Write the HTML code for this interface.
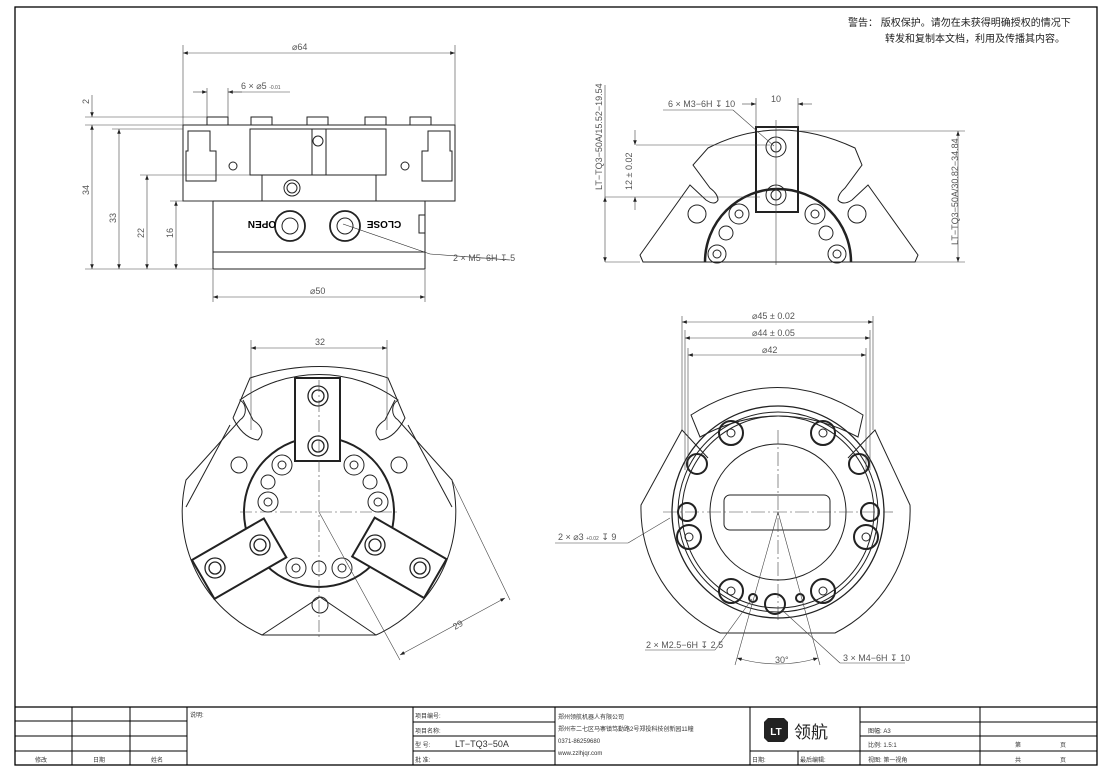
<!DOCTYPE html>
<html><head><meta charset="utf-8"><style>
html,body{margin:0;padding:0;background:#fff}
svg{display:block}
text{font-family:"Liberation Sans","Noto Sans CJK SC",sans-serif}
</style></head><body>
<svg width="1107" height="770" viewBox="0 0 1107 770" xmlns="http://www.w3.org/2000/svg">
<defs>
<marker id="a" markerWidth="8" markerHeight="6" refX="8" refY="3" orient="auto-start-reverse"><path d="M0,0 L8,3 L0,6z" fill="#222"/></marker>
</defs>
<rect x="15" y="7" width="1082" height="758" fill="none" stroke="#000" stroke-width="1.3"/>
<text x="848" y="26" font-size="10" fill="#222">警告：  版权保护。请勿在未获得明确授权的情况下</text>
<text x="885" y="42" font-size="10" fill="#222">转发和复制本文档，利用及传播其内容。</text>

<!-- SIDE VIEW -->
<g stroke="#222" fill="none" stroke-width="1">
<rect x="183" y="125" width="272" height="76"/>
<rect x="213" y="201" width="212" height="68"/>
<line x1="213" y1="252" x2="425" y2="252"/>
<rect x="207" y="117" width="21" height="8"/><rect x="251" y="117" width="21" height="8"/><rect x="307" y="117" width="21" height="8"/><rect x="365" y="117" width="21" height="8"/><rect x="410" y="117" width="21" height="8"/>
<rect x="250" y="129" width="136" height="46"/>
<line x1="262" y1="175" x2="262" y2="201"/><line x1="376" y1="175" x2="376" y2="201"/>
<line x1="312" y1="129" x2="312" y2="175"/><line x1="326" y1="129" x2="326" y2="175"/>
<path d="M188,131 h22 v20 h6 v30 h-30 v-30 h2z"/>
<path d="M450,131 h-22 v20 h-6 v30 h30 v-30 h-2z"/>
<circle cx="233" cy="166" r="4"/><circle cx="405" cy="166" r="4"/>
<circle cx="318" cy="141" r="5"/>
<circle cx="292" cy="188" r="8"/><circle cx="292" cy="188" r="5"/>
<circle cx="290" cy="226" r="15" stroke-width="1.8"/><circle cx="290" cy="226" r="8"/>
<circle cx="345" cy="226" r="15" stroke-width="1.8"/><circle cx="345" cy="226" r="8"/>
<path d="M425,215 h-6 v18 h6"/>
<line x1="343" y1="224" x2="430" y2="254" stroke-width=".6"/><line x1="430" y1="254" x2="510" y2="260" stroke-width=".6"/>
</g>
<text x="262" y="229" font-size="10" font-weight="bold" transform="rotate(180 262 225)" text-anchor="middle">OPEN</text>
<text x="384" y="229" font-size="10" font-weight="bold" transform="rotate(180 384 225)" text-anchor="middle">CLOSE</text>
<g stroke="#444" stroke-width=".6" fill="none">
<line x1="183" y1="45" x2="183" y2="125"/><line x1="455" y1="45" x2="455" y2="125"/>
<line x1="183" y1="53" x2="455" y2="53" marker-start="url(#a)" marker-end="url(#a)"/>
<line x1="213" y1="270" x2="213" y2="302"/><line x1="425" y1="270" x2="425" y2="302"/>
<line x1="213" y1="297" x2="425" y2="297" marker-start="url(#a)" marker-end="url(#a)"/>
<line x1="85" y1="269" x2="213" y2="269"/>
<line x1="85" y1="117" x2="207" y2="117"/><line x1="85" y1="125" x2="183" y2="125"/>
<line x1="112" y1="129" x2="183" y2="129"/><line x1="140" y1="175" x2="250" y2="175"/><line x1="170" y1="201" x2="213" y2="201"/>
<line x1="92" y1="125" x2="92" y2="269" marker-start="url(#a)" marker-end="url(#a)"/>
<line x1="92" y1="95" x2="92" y2="117" marker-end="url(#a)"/>
<line x1="119" y1="129" x2="119" y2="269" marker-start="url(#a)" marker-end="url(#a)"/>
<line x1="147" y1="175" x2="147" y2="269" marker-start="url(#a)" marker-end="url(#a)"/>
<line x1="176" y1="201" x2="176" y2="269" marker-start="url(#a)" marker-end="url(#a)"/>
<line x1="207" y1="88" x2="207" y2="117"/><line x1="228" y1="88" x2="228" y2="117"/>
<line x1="193" y1="92" x2="207" y2="92" marker-end="url(#a)"/><line x1="242" y1="92" x2="228" y2="92" marker-end="url(#a)"/>
<line x1="228" y1="92" x2="290" y2="92"/>
</g>
<g font-size="9" fill="#555">
<text x="292" y="50">⌀64</text><text x="310" y="294">⌀50</text>
<text x="241" y="89">6 × ⌀5 <tspan font-size="5">-0.01</tspan></text>
<text x="453" y="261">2 × M5−6H ↧ 5</text>
<text transform="translate(89,195) rotate(-90)">34</text>
<text transform="translate(116,223) rotate(-90)">33</text>
<text transform="translate(144,238) rotate(-90)">22</text>
<text transform="translate(173,238) rotate(-90)">16</text>
<text transform="translate(89,104) rotate(-90)">2</text>
</g>

<!-- TOP RIGHT VIEW -->
<g stroke="#222" fill="none" stroke-width="1">
<path d="M708,148 Q778,112 855,148 L862,165 L845,188 Q838,194 838,200 Q843,206 852,200 L868,185 L918,255 L915,262 L643,262 L640,255 L690,185 L706,200 Q715,206 718,200 Q718,194 710,188 L693,165 Z"/>
<rect x="756" y="127" width="42" height="85" stroke-width="2"/>
<path d="M705,262 A73,73 0 0 1 851,262" stroke-width="2.5"/>
<circle cx="776" cy="147" r="10"/><circle cx="776" cy="147" r="5"/>
<circle cx="776" cy="195" r="10"/><circle cx="776" cy="195" r="5"/>
<circle cx="739" cy="214" r="10"/><circle cx="739" cy="214" r="4"/>
<circle cx="815" cy="214" r="10"/><circle cx="815" cy="214" r="4"/>
<circle cx="697" cy="214" r="9"/><circle cx="857" cy="214" r="9"/>
<circle cx="726" cy="233" r="7"/><circle cx="826" cy="233" r="7"/>
<circle cx="717" cy="254" r="9"/><circle cx="717" cy="254" r="4"/>
<circle cx="837" cy="254" r="9"/><circle cx="837" cy="254" r="4"/>
</g>
<g stroke="#444" stroke-width=".6" fill="none">
<line x1="756" y1="98" x2="756" y2="127"/><line x1="798" y1="98" x2="798" y2="127"/>
<line x1="742" y1="104" x2="756" y2="104" marker-end="url(#a)"/><line x1="812" y1="104" x2="798" y2="104" marker-end="url(#a)"/>
<line x1="663" y1="110" x2="733" y2="110"/><line x1="733" y1="110" x2="774" y2="146"/>
<line x1="636" y1="145" x2="770" y2="145"/><line x1="605" y1="197" x2="760" y2="197"/>
<line x1="635" y1="130" x2="635" y2="145" marker-end="url(#a)"/><line x1="635" y1="210" x2="635" y2="197" marker-end="url(#a)"/>
<line x1="605" y1="262" x2="640" y2="262"/>
<line x1="605" y1="197" x2="605" y2="262" marker-start="url(#a)" marker-end="url(#a)"/>
<line x1="605" y1="85" x2="605" y2="197"/>
<line x1="800" y1="131" x2="965" y2="131"/><line x1="915" y1="262" x2="965" y2="262"/>
<line x1="958" y1="131" x2="958" y2="262" marker-start="url(#a)" marker-end="url(#a)"/>
<line x1="776" y1="120" x2="776" y2="265"/>
</g>
<g font-size="9" fill="#555">
<text x="771" y="102">10</text>
<text x="668" y="107">6 × M3−6H ↧ 10</text>
<text transform="translate(632,190) rotate(-90)">12 ± 0.02</text>
<text transform="translate(602,190) rotate(-90)">LT−TQ3−50A/15.52−19.54</text>
<text transform="translate(958,245) rotate(-90)">LT−TQ3−50A/30.82−34.84</text>
</g>

<!-- BOTTOM LEFT VIEW -->
<g stroke="#222" fill="none" stroke-width="1">
<path d="M262,635 L376,635 A135,135 0 0 0 452,480 L398,420 A12,12 0 0 1 398,400 A135,135 0 0 0 240,400 A12,12 0 0 1 240,420 L186,480 A135,135 0 0 0 262,635 Z"/>
<path d="M233,418 L250,378 Q320,355 388,378 L405,418 Q395,438 380,440 Q370,430 385,420 L395,400 M233,418 Q243,438 258,440 Q268,430 253,420 L243,400"/>
<path d="M186,507 L230,425 M452,507 L408,425 M262,635 L320,597 L376,635"/>
<circle cx="319" cy="512" r="75" stroke-width="2"/>
<rect x="295" y="378" width="45" height="83" stroke-width="2" fill="#fff"/>
<g transform="rotate(-120 319 512)"><rect x="296" y="378" width="45" height="83" stroke-width="2" fill="#fff"/></g>
<g transform="rotate(120 319 512)"><rect x="296" y="378" width="45" height="83" stroke-width="2" fill="#fff"/></g>
<g stroke-width="1.3">
<circle cx="318" cy="396" r="10"/><circle cx="318" cy="396" r="6"/>
<circle cx="318" cy="446" r="10"/><circle cx="318" cy="446" r="6"/>
<circle cx="260" cy="545" r="10"/><circle cx="260" cy="545" r="6"/>
<circle cx="215" cy="568" r="10"/><circle cx="215" cy="568" r="6"/>
<circle cx="375" cy="545" r="10"/><circle cx="375" cy="545" r="6"/>
<circle cx="420" cy="568" r="10"/><circle cx="420" cy="568" r="6"/>
</g>
<circle cx="282" cy="465" r="10"/><circle cx="282" cy="465" r="4"/>
<circle cx="354" cy="465" r="10"/><circle cx="354" cy="465" r="4"/>
<circle cx="268" cy="502" r="10"/><circle cx="268" cy="502" r="4"/>
<circle cx="378" cy="502" r="10"/><circle cx="378" cy="502" r="4"/>
<circle cx="268" cy="482" r="7"/><circle cx="370" cy="482" r="7"/>
<circle cx="296" cy="568" r="10"/><circle cx="296" cy="568" r="4"/>
<circle cx="342" cy="568" r="10"/><circle cx="342" cy="568" r="4"/>
<circle cx="319" cy="568" r="7"/><circle cx="320" cy="605" r="8"/>
<circle cx="239" cy="465" r="8"/><circle cx="399" cy="465" r="8"/>
</g>
<g stroke="#444" stroke-width=".6" fill="none" stroke-dasharray="12,3,2,3">
<line x1="240" y1="512" x2="400" y2="512"/><line x1="319" y1="380" x2="319" y2="640"/>
</g>
<g stroke="#444" stroke-width=".6" fill="none">
<line x1="251" y1="340" x2="251" y2="430"/><line x1="387" y1="340" x2="387" y2="430"/>
<line x1="251" y1="348" x2="387" y2="348" marker-start="url(#a)" marker-end="url(#a)"/>
<line x1="319" y1="512" x2="400" y2="660"/><line x1="452" y1="480" x2="510" y2="600"/>
<line x1="400" y1="655" x2="505" y2="598" marker-start="url(#a)" marker-end="url(#a)"/>
</g>
<text x="315" y="345" font-size="9" fill="#555">32</text>
<text transform="translate(455,630) rotate(-30)" font-size="9" fill="#555">29</text>

<!-- BOTTOM RIGHT VIEW -->
<g stroke="#222" fill="none" stroke-width="1">
<path d="M720,633 L835,633 A137,137 0 0 0 910,505 L875,430 L848,458 M720,633 A137,137 0 0 1 641,505 L682,430 L708,458"/>
<path d="M691,415 Q778,360 863,415 L858,437 Q778,395 700,437 Z"/>
<circle cx="778" cy="512" r="106" stroke-width="1.3"/>
<circle cx="778" cy="512" r="100"/><circle cx="778" cy="512" r="96"/>
<circle cx="778" cy="512" r="68"/>
<rect x="724" y="495" width="106" height="35" rx="6"/>
<g stroke-width="2">
<circle cx="731" cy="433" r="12"/><circle cx="823" cy="433" r="12"/>
<circle cx="697" cy="464" r="10"/><circle cx="859" cy="464" r="10"/>
<circle cx="687" cy="512" r="9"/><circle cx="870" cy="512" r="9"/>
<circle cx="689" cy="537" r="12"/><circle cx="866" cy="537" r="12"/>
<circle cx="731" cy="591" r="12"/><circle cx="823" cy="591" r="12"/>
<circle cx="775" cy="604" r="10"/>
<circle cx="753" cy="598" r="4"/><circle cx="800" cy="598" r="4"/>
</g>
<circle cx="731" cy="433" r="4"/><circle cx="823" cy="433" r="4"/>
<circle cx="689" cy="537" r="4"/><circle cx="866" cy="537" r="4"/>
<circle cx="731" cy="591" r="4"/><circle cx="823" cy="591" r="4"/>
</g>
<g stroke="#444" stroke-width=".6" fill="none">
<line x1="663" y1="512" x2="893" y2="512" stroke-dasharray="14,3,2,3"/><line x1="778" y1="430" x2="778" y2="620" stroke-dasharray="14,3,2,3"/>
<line x1="682" y1="316" x2="682" y2="430"/><line x1="873" y1="316" x2="873" y2="430"/>
<line x1="682" y1="322" x2="873" y2="322" marker-start="url(#a)" marker-end="url(#a)"/>
<line x1="685" y1="338" x2="870" y2="338" marker-start="url(#a)" marker-end="url(#a)"/>
<line x1="685" y1="330" x2="685" y2="470"/><line x1="870" y1="330" x2="870" y2="470"/>
<line x1="688" y1="348" x2="688" y2="470"/><line x1="866" y1="348" x2="866" y2="470"/>
<line x1="688" y1="355" x2="866" y2="355" marker-start="url(#a)" marker-end="url(#a)"/>
<line x1="778" y1="512" x2="735" y2="665"/><line x1="778" y1="512" x2="820" y2="665"/>
<path d="M737,658 Q778,670 818,658" marker-start="url(#a)" marker-end="url(#a)"/>
<line x1="555" y1="543" x2="628" y2="543"/><line x1="628" y1="543" x2="670" y2="518"/>
<line x1="645" y1="650" x2="715" y2="650"/><line x1="715" y1="650" x2="752" y2="599"/>
<line x1="840" y1="663" x2="905" y2="663"/><line x1="840" y1="663" x2="782" y2="610"/>
</g>
<g font-size="9" fill="#555">
<text x="752" y="319">⌀45 ± 0.02</text><text x="752" y="336">⌀44 ± 0.05</text><text x="762" y="353">⌀42</text>
<text x="558" y="540">2 × ⌀3 <tspan font-size="5">+0.02</tspan> ↧ 9</text>
<text x="646" y="648">2 × M2.5−6H ↧ 2.5</text>
<text x="843" y="661">3 × M4−6H ↧ 10</text>
<text x="775" y="663">30°</text>
</g>

<!-- TITLE BLOCK -->
<g stroke="#000" stroke-width="1" fill="none">
<line x1="15" y1="707" x2="1097" y2="707" stroke-width="1.3"/>
<line x1="72" y1="707" x2="72" y2="765"/><line x1="130" y1="707" x2="130" y2="765"/><line x1="187" y1="707" x2="187" y2="765"/>
<line x1="413" y1="707" x2="413" y2="765"/><line x1="555" y1="707" x2="555" y2="765"/><line x1="750" y1="707" x2="750" y2="765"/>
<line x1="860" y1="707" x2="860" y2="765"/><line x1="980" y1="707" x2="980" y2="765"/>
<line x1="798" y1="751" x2="798" y2="765"/>
<line x1="15" y1="721" x2="187" y2="721"/><line x1="15" y1="736" x2="187" y2="736"/><line x1="15" y1="751" x2="187" y2="751"/>
<line x1="413" y1="722" x2="555" y2="722"/><line x1="413" y1="736" x2="555" y2="736"/><line x1="413" y1="751" x2="555" y2="751"/>
<line x1="750" y1="751" x2="860" y2="751"/>
<line x1="860" y1="722" x2="1097" y2="722"/><line x1="860" y1="736" x2="1097" y2="736"/><line x1="860" y1="751" x2="1097" y2="751"/>
</g>
<path d="M768,718 h16 l4,4 v16 l-4,4 h-16 l-4,-4 v-16z" fill="#222"/>
<text x="776" y="735" font-size="10" font-weight="bold" fill="#fff" text-anchor="middle">LT</text>
<text x="794" y="738" font-size="17" fill="#222">领航</text>
<g font-size="6" fill="#333">
<text x="190" y="717">说明:</text>
<text x="415" y="718">项目编号:</text><text x="415" y="733">项目名称:</text>
<text x="415" y="747">型    号:</text><text x="455" y="747" font-size="9">LT−TQ3−50A</text>
<text x="415" y="762">批    准:</text>
<text x="558" y="719">郑州领航机器人有限公司</text>
<text x="558" y="731">郑州市二七区马寨镇笃勤路2号郑投科技创新园11幢</text>
<text x="558" y="743">0371-86259680</text>
<text x="558" y="755">www.zzlhjqr.com</text>
<text x="752" y="762">日期:</text><text x="800" y="762">最后编辑:</text>
<text x="868" y="733">图幅: A3</text><text x="868" y="747">比例: 1.5:1</text><text x="868" y="762">视图: 第一视角</text>
<text x="1015" y="747">第</text><text x="1060" y="747">页</text>
<text x="1015" y="762">共</text><text x="1060" y="762">页</text>
<text x="35" y="762">修改</text><text x="93" y="762">日期</text><text x="151" y="762">姓名</text>
</g>
</svg>
</body></html>
